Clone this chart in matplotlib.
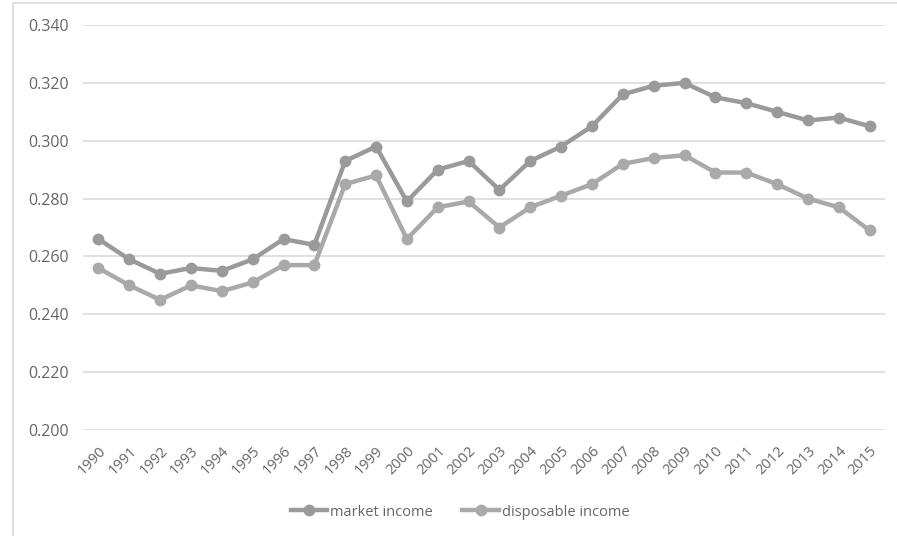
import matplotlib.pyplot as plt
import numpy as np

years = [str(y) for y in range(1990, 2016)]
market = [0.266, 0.259, 0.254, 0.256, 0.255, 0.259, 0.266, 0.264, 0.293, 0.298,
          0.279, 0.290, 0.293, 0.283, 0.293, 0.298, 0.305, 0.316, 0.319, 0.320,
          0.315, 0.313, 0.310, 0.307, 0.308, 0.305]
disposable = [0.256, 0.250, 0.245, 0.250, 0.248, 0.251, 0.257, 0.257, 0.285, 0.288,
              0.266, 0.277, 0.279, 0.270, 0.277, 0.281, 0.285, 0.292, 0.294, 0.295,
              0.289, 0.289, 0.285, 0.280, 0.277, 0.269]
yticks = [0.200, 0.220, 0.240, 0.260, 0.280, 0.300, 0.320, 0.340]

plt.rcParams['font.family'] = ['Open Sans', 'DejaVu Sans']

fig = plt.figure(figsize=(8.97, 5.36), dpi=100)
ax = fig.add_axes([83 / 897, 1 - 430 / 536, 802 / 897, 405 / 536])

x = np.arange(len(years))
ax.plot(x, market, color='#9a9a9a', lw=3.2, marker='o', ms=7.5, label='market income', zorder=3)
ax.plot(x, disposable, color='#a9a9a9', lw=3.2, marker='o', ms=7.5, label='disposable income', zorder=3)

ax.set_xlim(-0.5, len(years) - 0.5)
ax.set_ylim(0.200, 0.340)
ax.set_yticks(yticks)
ax.set_yticklabels(['%.3f' % v for v in yticks], fontsize=11.5, color='#666666')
ax.set_xticks(x)
ax.set_xticklabels(years, rotation=45, ha='right', rotation_mode='anchor',
                   fontsize=10.5, color='#666666')
ax.tick_params(axis='both', length=0)
ax.tick_params(axis='x', pad=10)
ax.tick_params(axis='y', pad=10)
ax.grid(axis='y', color='#dddddd', lw=1.3)
for s in ax.spines.values():
    s.set_visible(False)

fig.legend(loc='center', bbox_to_anchor=(0.513, 1 - 512 / 536), ncol=2, frameon=False,
           fontsize=10.5, labelcolor='#666666', handlelength=2.5, handletextpad=0.2,
           columnspacing=2.0)

# outer chart frame
fig.add_artist(plt.Rectangle((13 / 897, -0.01), 1.0, 1 - 3 / 536 + 0.01,
                             transform=fig.transFigure, fill=False,
                             edgecolor='#d9d9d9', lw=1.2))

fig.savefig('out.png', dpi=100)
